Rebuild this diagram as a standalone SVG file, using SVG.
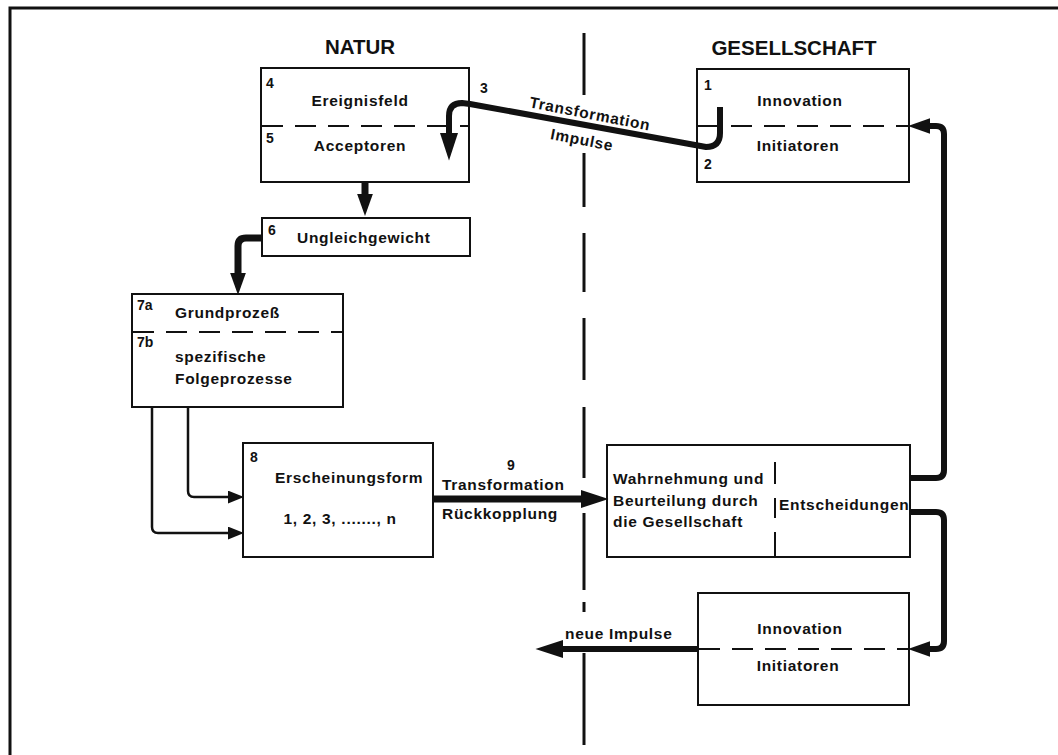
<svg xmlns="http://www.w3.org/2000/svg" width="1058" height="755" viewBox="0 0 1058 755">
  <style>
    .frame { fill: none; stroke: #111; stroke-width: 3; }
    .box { fill: #fff; stroke: #111; stroke-width: 2; }
    .split { stroke: #111; stroke-width: 2; stroke-dasharray: 21 12; fill: none; }
    .divider { stroke: #111; stroke-width: 3; fill: none; }
    .thick { fill: none; stroke: #111; stroke-width: 6; stroke-linejoin: round; }
    .thin { fill: none; stroke: #111; stroke-width: 2.5; }
    text { font-family: "Liberation Sans", Arial, Helvetica, sans-serif; fill: #111; font-weight: bold; }
    .lbl { font-size: 15.5px; letter-spacing: 0.7px; }
    .num { font-size: 14px; }
    .head { font-size: 20.5px; text-anchor: middle; }
    .mid { text-anchor: middle; }
  </style>
  <defs>
    <marker id="bigHead" markerUnits="userSpaceOnUse" markerWidth="28" markerHeight="18" refX="0" refY="8.5" orient="auto" viewBox="0 0 26 17">
      <path d="M0,0 L26,8.5 L0,17 Z" fill="#111"/>
    </marker>
    <marker id="midHead" markerUnits="userSpaceOnUse" markerWidth="22" markerHeight="16" refX="0" refY="7.5" orient="auto" viewBox="0 0 21 15">
      <path d="M0,0 L21,7.5 L0,15 Z" fill="#111"/>
    </marker>
    <marker id="smallHead" markerUnits="userSpaceOnUse" markerWidth="16" markerHeight="13" refX="0" refY="6" orient="auto" viewBox="0 0 15 12">
      <path d="M0,0 L15,6 L0,12 Z" fill="#111"/>
    </marker>
  </defs>

  <rect width="1058" height="755" fill="#fff"/>
  <!-- outer frame: only top and left edges fall inside the page -->
  <path class="frame" d="M10,760 V8 H1062"/>

  <!-- column headings -->
  <text class="head" x="360" y="54">NATUR</text>
  <text class="head" x="794" y="55">GESELLSCHAFT</text>

  <!-- dashed divide between nature and society -->
  <g id="divide" class="divider">
    <line x1="584" y1="33" x2="584" y2="95"/>
    <line x1="584" y1="153" x2="584" y2="207"/>
    <line x1="584" y1="233" x2="584" y2="292"/>
    <line x1="584" y1="318" x2="584" y2="380"/>
    <line x1="584" y1="407" x2="584" y2="478"/>
    <line x1="584" y1="513" x2="584" y2="590"/>
    <line x1="584" y1="602" x2="584" y2="612"/>
    <line x1="584" y1="653" x2="584" y2="745"/>
  </g>

  <!-- 4/5 event field and acceptors -->
  <g id="n-ereignisfeld">
    <rect class="box" x="261" y="68" width="208" height="114"/>
    <line class="split" x1="262" y1="126" x2="468" y2="126"/>
    <text class="num" x="266" y="88">4</text>
    <text class="lbl mid" x="360" y="106">Ereignisfeld</text>
    <text class="num" x="266" y="143">5</text>
    <text class="lbl mid" x="360" y="151">Acceptoren</text>
  </g>

  <!-- 1/2 innovation and initiators -->
  <g id="n-innovation-top">
    <rect class="box" x="697" y="69" width="212" height="113"/>
    <line class="split" x1="698" y1="126" x2="908" y2="126"/>
    <text class="num" x="704" y="90">1</text>
    <text class="lbl mid" x="800" y="106">Innovation</text>
    <text class="lbl mid" x="798" y="151">Initiatoren</text>
    <text class="num" x="704" y="169">2</text>
  </g>

  <!-- 6 imbalance -->
  <g id="n-ungleichgewicht">
    <rect class="box" x="262" y="218" width="208" height="38"/>
    <text class="num" x="268" y="235">6</text>
    <text class="lbl" x="297" y="243">Ungleichgewicht</text>
  </g>

  <!-- 7a/7b processes -->
  <g id="n-prozesse">
    <rect class="box" x="132" y="294" width="211" height="113"/>
    <line class="split" x1="133" y1="332" x2="342" y2="332"/>
    <text class="num" x="137" y="310">7a</text>
    <text class="lbl" x="175" y="318">Grundprozeß</text>
    <text class="num" x="137" y="347">7b</text>
    <text class="lbl" x="175" y="362">spezifische</text>
    <text class="lbl" x="175" y="384">Folgeprozesse</text>
  </g>

  <!-- 8 manifestation -->
  <g id="n-erscheinungsform">
    <rect class="box" x="243" y="443" width="190" height="114"/>
    <text class="num" x="250" y="462">8</text>
    <text class="lbl" x="275" y="483">Erscheinungsform</text>
    <text class="lbl mid" x="340" y="524">1, 2, 3, ......., n</text>
  </g>

  <!-- perception and decisions -->
  <g id="n-wahrnehmung">
    <rect class="box" x="607" y="445" width="303" height="112"/>
    <g class="divider" style="stroke-width:2">
      <line x1="775" y1="462" x2="775" y2="484"/>
      <line x1="775" y1="498" x2="775" y2="518"/>
      <line x1="775" y1="532" x2="775" y2="557"/>
    </g>
    <text class="lbl" x="613" y="484">Wahrnehmung und</text>
    <text class="lbl" x="613" y="506">Beurteilung durch</text>
    <text class="lbl" x="613" y="527">die Gesellschaft</text>
    <text class="lbl" x="779" y="510">Entscheidungen</text>
  </g>

  <!-- new innovation and initiators -->
  <g id="n-innovation-neu">
    <rect class="box" x="698" y="593" width="211" height="112"/>
    <line class="split" x1="699" y1="649" x2="908" y2="649"/>
    <text class="lbl mid" x="800" y="634">Innovation</text>
    <text class="lbl mid" x="798" y="671">Initiatoren</text>
  </g>

  <!-- connectors -->
  <g id="connectors">
    <!-- 3: impulses from society into the acceptors -->
    <path class="thick" d="M720,107 V133 Q720,147 706,147 L470,104 L462,103 Q449,103 449,116 V133" marker-end="url(#bigHead)"/>
    <text class="num" x="480" y="93">3</text>
    <text class="lbl mid" transform="translate(589,119) rotate(11)">Transformation</text>
    <text class="lbl mid" transform="translate(581,145) rotate(11)">Impulse</text>

    <!-- event field to imbalance -->
    <path class="thick" style="stroke-width:7" d="M365,182 V194" marker-end="url(#midHead)"/>
    <!-- imbalance to processes -->
    <path class="thick" style="stroke-width:7" d="M262,238 H246 Q238,238 238,246 V273" marker-end="url(#midHead)"/>

    <!-- processes to manifestation -->
    <path class="thin" d="M188,407 V491 Q188,497 194,497 H228" marker-end="url(#smallHead)"/>
    <path class="thin" d="M152,407 V527 Q152,533 158,533 H228" marker-end="url(#smallHead)"/>

    <!-- 9: feedback into society -->
    <path class="thick" style="stroke-width:7" d="M433,499 H581" marker-end="url(#bigHead)"/>
    <text class="num" x="507" y="470">9</text>
    <text class="lbl" x="442" y="490">Transformation</text>
    <text class="lbl" x="442" y="519">Rückkopplung</text>

    <!-- decisions back to the top innovation box -->
    <path class="thick" d="M910,478 H936 Q944,478 944,470 V134 Q944,126 936,126 H930" marker-end="url(#midHead)"/>
    <!-- decisions to the new innovation box -->
    <path class="thick" d="M910,512 H936 Q944,512 944,520 V641 Q944,649 936,649 H930" marker-end="url(#midHead)"/>

    <!-- new impulses leaving to the left -->
    <path class="thick" d="M698,649 H563" marker-end="url(#bigHead)"/>
    <text class="lbl" x="565" y="639">neue Impulse</text>
  </g>
</svg>
